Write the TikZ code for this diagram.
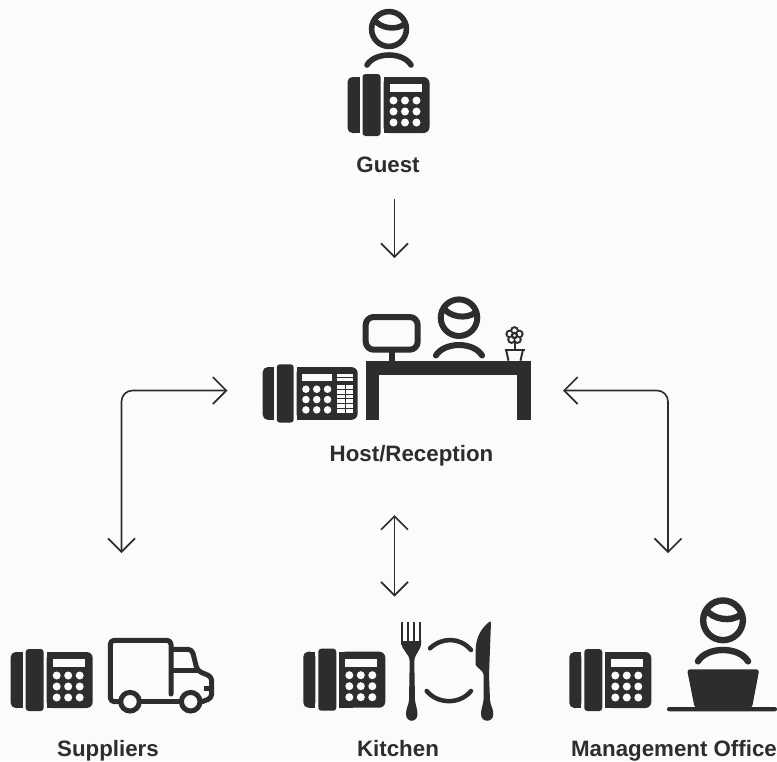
\documentclass[tikz,border=0pt]{standalone}
\usepackage{fontspec}
\setmainfont{Liberation Sans}
\usetikzlibrary{arrows.meta}
\definecolor{ink}{HTML}{2D2D2D}
\definecolor{paper}{HTML}{FAFBFA}
\tikzset{
  flow/.style={draw=ink, line width=1.6pt, rounded corners=11pt, {Straight Barb[length=13.5pt,width=27pt]}-{Straight Barb[length=13.5pt,width=27pt]}},
  oneway/.style={draw=ink, line width=1.6pt, -{Straight Barb[length=13.5pt,width=27pt]}},
  caption/.style={anchor=base, text=ink, font=\bfseries\fontsize{22.3}{26}\selectfont, inner sep=0pt},
  thick stroke/.style={draw=ink, line width=5pt, line cap=round, line join=round},
  phone/.pic={
    % arg: right edge of the body
    \fill[ink, rounded corners=5pt] (0,3) rectangle (12,59);
    \fill[ink] (6,3) rectangle (12,59);
    \fill[ink, rounded corners=3pt] (15,0) rectangle (33,62);
    \fill[ink, rounded corners=6pt] (36,3) rectangle (#1,59);
    \fill[ink] (36,3) rectangle (50,59);
    \fill[paper] (42,10) rectangle (74,18);
    \foreach \kx in {46,57.5,69}
      \foreach \ky in {26.5,37.5,48.5}
        \fill[paper] (\kx,\ky) circle[radius=4];
  },
  person/.pic={
    \draw[ink] (0,0) circle[radius=17.4];
    \draw[ink, line cap=butt] (-14.5,-9) .. controls (-9,-1) and (7,2) .. (15.5,-5);
    \draw[ink, line cap=round] (-22,36) .. controls (-14,22.7) and (14,22.7) .. (22,36);
  },
}
\begin{document}
\begin{tikzpicture}[x=1pt, y=-1pt]
  \useasboundingbox (0,0) rectangle (777,761);
  \fill[paper] (0,0) rectangle (777,761);

  % Guest
  \pic[line width=5.6pt] at (389,29) {person};
  \pic at (347.5,74) {phone=82};
  \node[caption] (guest) at (388,172) {Guest};

  % Host/Reception
  \pic[line width=6pt, scale=1.05] at (459,317.7) {person};
  \pic[scale=0.94] at (262.7,364.3) {phone=101};
  % - phone side panel
  \fill[paper] (337.3,374) rectangle (352.7,377.3);
  \fill[paper] (337.3,378.4) rectangle (352.7,381);
  \fill[paper] (337.3,385) rectangle (352.7,412.7);
  \foreach \ly in {389.6,394.2,398.8,403.4,408}
    \draw[ink, line width=0.9pt] (337.3,\ly) -- (352.7,\ly);
  \draw[ink, line width=0.9pt] (345,385) -- (345,412.7);
  % - desk
  \fill[ink] (365.7,360.7) rectangle (531,375);
  \fill[ink] (365.7,360.7) rectangle (379.3,420);
  \fill[ink] (516.7,360.7) rectangle (531,420);
  % - monitor
  \draw[thick stroke, line width=6pt, rounded corners=8pt] (365.7,317) rectangle (417.7,349.7);
  \fill[ink] (389,350) rectangle (395,361);
  % - flower
  \foreach \pa in {-90,-18,54,126,198}
    \fill[ink] (514.5,335.5) ++(\pa:5) circle[radius=4.4];
  \foreach \pa in {-90,-18,54,126,198}
    \fill[paper] (514.5,335.5) ++(\pa:5) circle[radius=2.2];
  \fill[ink] (514.5,335.5) circle[radius=3.8];
  \fill[paper] (514.5,335.5) circle[radius=1.4];
  \draw[ink, line width=2pt] (514.5,343) -- (514.5,349);
  \draw[ink, line width=2pt] (504.5,349.5) -- (524.5,349.5);
  \draw[ink, line width=2pt] (506,349.5) -- (508.5,360.7) (523,349.5) -- (520.5,360.7);
  \node[caption] (host) at (411.5,461) {Host/Reception};

  % Suppliers
  \pic at (10.7,649) {phone=82};
  % - truck
  \draw[thick stroke, rounded corners=4pt] (171,694) -- (171,640.3) -- (110.3,640.3) -- (110.3,701.7) -- (119,701.7);
  \draw[thick stroke] (141,701.7) -- (180,701.7);
  \draw[thick stroke, rounded corners=4pt] (173,649.3) -- (192,649.3) -- (197.3,670.7) -- (211.7,676.7) -- (211.7,698) -- (202,701.7);
  \draw[thick stroke] (173,670.7) -- (197.3,670.7);
  \draw[thick stroke, line cap=butt] (203.5,688.3) -- (212,688.3);
  \draw[ink, line width=5pt] (130,701.7) circle[radius=9.3];
  \draw[ink, line width=5pt] (190.7,701.7) circle[radius=9.3];
  \node[caption] (suppliers) at (108,756) {Suppliers};

  % Kitchen
  \pic at (303.3,648.7) {phone=82};
  % - fork
  \foreach \tx in {402.3,408.3,414.3,420.3}
    \fill[ink] (\tx-1,621.7) rectangle (\tx+1,645);
  \fill[ink] (401.3,641) -- (421.3,641) .. controls (421.3,652) and (414.5,652) .. (414.3,662)
    -- (415,700) .. controls (415.5,706) and (417.5,708) .. (417.5,714)
    .. controls (417.5,723) and (406,723) .. (406,714)
    .. controls (406,708) and (408.5,706) .. (409,700) -- (409.7,662)
    .. controls (409.5,652) and (401.3,652) .. (401.3,641) -- cycle;
  % - plate
  \draw[thick stroke, line width=4.5pt] (430,648.3) .. controls (442,637) and (460,637) .. (471,650);
  \draw[thick stroke, line width=4.5pt] (426.7,691) .. controls (438,704.5) and (460,704.5) .. (471,691);
  % - knife
  \fill[ink] (489.8,621.5) .. controls (481,628) and (475.7,638) .. (475.7,650) -- (475.7,665)
    .. controls (478,669) and (483,670) .. (483.7,675) -- (483.5,700)
    .. controls (483,706) and (481,708) .. (481,714)
    .. controls (481,723) and (493.3,723) .. (493.3,714)
    .. controls (493.3,708) and (490.5,706) .. (490,700) -- (489,675)
    -- (491,622) -- cycle;
  \node[caption] (kitchen) at (398,756) {Kitchen};

  % Management Office
  \pic at (569.3,649) {phone=82};
  \pic[line width=6.4pt, scale=1.14] at (723,620.3) {person};
  % - laptop
  \fill[ink, rounded corners=3pt] (687,669.3) -- (759.3,669.3) -- (752,708) -- (694.7,708) -- cycle;
  \fill[ink, rounded corners=2pt] (667,707) rectangle (777,711.3);
  \node[caption] (office) at (674,756) {Management Office};

  % Connectors
  \coordinate (guestout) at (394.5,199);
  \coordinate (hostin) at (394.5,258);
  \coordinate (hostleft) at (227.5,390.5);
  \coordinate (suppliersin) at (121.5,553);
  \coordinate (hostright) at (563,390.5);
  \coordinate (officein) at (668,553);
  \coordinate (hostdown) at (394.5,515);
  \coordinate (kitchenin) at (394.5,596.5);
  \draw[oneway] (guestout) -- (hostin);
  \draw[flow] (hostleft) -| (suppliersin);
  \draw[flow] (hostright) -| (officein);
  \draw[flow] (hostdown) -- (kitchenin);
\end{tikzpicture}
\end{document}
